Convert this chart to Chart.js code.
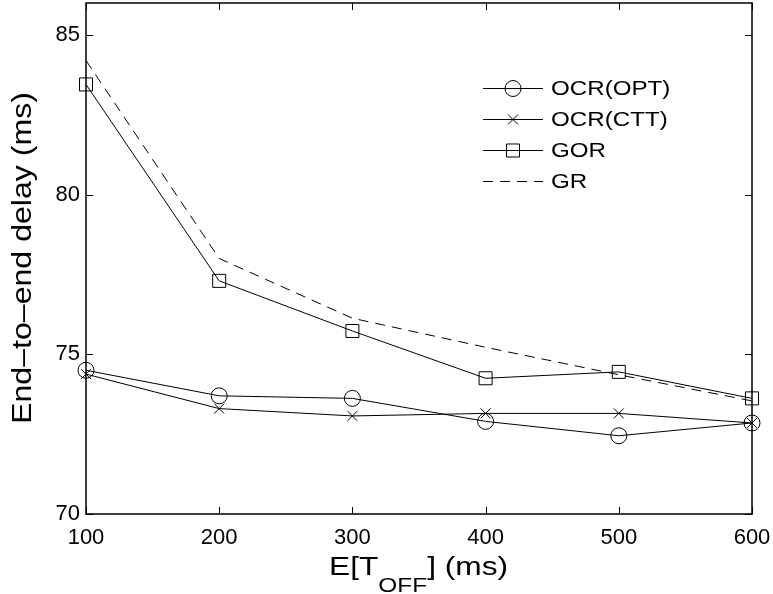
<!DOCTYPE html>
<html lang="en">
<head>
    <meta charset="UTF-8">
    <title>End-to-end delay vs E[T_OFF]</title>
    <script src="https://cdn.jsdelivr.net/npm/chart.js"></script>
    <style>
        html, body { margin: 0; padding: 0; background: #ffffff; }
        #wrap { width: 773px; height: 594px; }
    </style>
</head>
<body>
    <div id="wrap">
        <canvas id="delayChart" width="773" height="594"></canvas>
    </div>
    <script>
        // valores
        const toff = [100, 200, 300, 400, 500, 600];
        const ocrOpt = [74.5, 73.7, 73.62, 72.9, 72.45, 72.85];
        const ocrCtt = [74.38, 73.3, 73.07, 73.15, 73.15, 72.85];
        const gor = [83.45, 77.3, 75.73, 74.25, 74.45, 73.62];
        const gr = [84.2, 78.0, 76.13, 75.22, 74.36, 73.54];
        const yTicks = [70, 75, 80, 85];

        const FONT = "'Liberation Sans', Arial, sans-serif";

        function pts(ys) {
            return toff.map((x, i) => ({ x: x, y: ys[i] }));
        }

        // moldura e marcas de escala para dentro, como no MATLAB
        const framePlugin = {
            id: 'frame',
            afterDraw(chart) {
                const { ctx, chartArea: a, scales } = chart;
                ctx.save();
                ctx.strokeStyle = '#000';
                ctx.lineWidth = 1;
                ctx.beginPath();
                toff.forEach(v => {
                    const px = Math.round(scales.x.getPixelForValue(v)) + 0.5;
                    ctx.moveTo(px, a.bottom); ctx.lineTo(px, a.bottom - 7);
                    ctx.moveTo(px, a.top); ctx.lineTo(px, a.top + 7);
                });
                yTicks.forEach(v => {
                    const py = Math.round(scales.y.getPixelForValue(v)) + 0.5;
                    ctx.moveTo(a.left, py); ctx.lineTo(a.left + 7, py);
                    ctx.moveTo(a.right, py); ctx.lineTo(a.right - 7, py);
                });
                ctx.stroke();
                ctx.lineWidth = 1.5;
                ctx.strokeRect(a.left, a.top, a.right - a.left, a.bottom - a.top);

                ctx.fillStyle = '#000';
                ctx.textBaseline = 'alphabetic';
                ctx.textAlign = 'left';

                // título do eixo x com subscrito (fonte um pouco esticada na horizontal)
                ctx.save();
                ctx.translate(329, 0);
                ctx.scale(1.22, 1);
                let x = 0;
                ctx.font = '26px ' + FONT;
                ctx.fillText('E[T', x, 575);
                x += ctx.measureText('E[T').width;
                ctx.font = '20px ' + FONT;
                ctx.fillText('OFF', x, 592);
                x += ctx.measureText('OFF').width;
                ctx.font = '26px ' + FONT;
                ctx.fillText('] (ms)', x, 575);
                ctx.restore();

                // título do eixo y, girado
                ctx.save();
                ctx.translate(24, 258);
                ctx.rotate(-Math.PI / 2);
                ctx.font = '27px ' + FONT;
                ctx.textAlign = 'center';
                ctx.textBaseline = 'middle';
                const yt = 'End\u2013to\u2013end delay (ms)';
                ctx.scale(332 / ctx.measureText(yt).width, 1);
                ctx.fillText(yt, 0, 0);
                ctx.restore();

                // legenda
                chart.data.datasets.forEach((ds, i) => {
                    const y = 88 + i * 31 + 0.5;
                    ctx.save();
                    ctx.lineWidth = 1;
                    ctx.strokeStyle = '#000';
                    ctx.setLineDash(ds.borderDash || []);
                    ctx.beginPath();
                    ctx.moveTo(483, y); ctx.lineTo(543, y);
                    ctx.stroke();
                    ctx.setLineDash([]);
                    if (ds.pointRadius > 0) {
                        ctx.fillStyle = 'rgba(0,0,0,0)';
                        Chart.helpers.drawPoint(ctx, {
                            pointStyle: ds.pointStyle,
                            radius: ds.pointRadius,
                            borderWidth: 1,
                            rotation: 0
                        }, 513, y);
                    }
                    ctx.restore();
                    ctx.save();
                    ctx.fillStyle = '#000';
                    ctx.font = '21px ' + FONT;
                    ctx.textBaseline = 'middle';
                    ctx.translate(551, y + 1);
                    ctx.scale(1.15, 1);
                    ctx.fillText(ds.label, 0, 0);
                    ctx.restore();
                });
                ctx.restore();
            }
        };

        function serie(label, ys, style, radius, dash) {
            return {
                label: label,
                data: pts(ys),
                borderColor: '#000',
                borderWidth: 1,
                borderDash: dash,
                pointStyle: style,
                pointRadius: radius,
                pointBorderColor: '#000',
                pointBackgroundColor: 'rgba(0,0,0,0)',
                pointBorderWidth: 1,
                tension: 0,
                clip: false
            };
        }

        const ctx = document.getElementById('delayChart').getContext('2d');
        new Chart(ctx, {
            type: 'line',
            data: {
                datasets: [
                    serie('OCR(OPT)', ocrOpt, 'circle', 8, []),
                    serie('OCR(CTT)', ocrCtt, 'crossRot', 7, []),
                    serie('GOR', gor, 'rect', 9.2, []),
                    serie('GR', gr, false, 0, [10, 7])
                ]
            },
            options: {
                responsive: false,
                animation: false,
                layout: { autoPadding: false, padding: { top: 3, right: 21, left: 0, bottom: 0 } },
                plugins: {
                    legend: { display: false },
                    tooltip: { enabled: false }
                },
                scales: {
                    x: {
                        type: 'linear',
                        min: 100,
                        max: 600,
                        grid: { display: false, drawTicks: false },
                        border: { display: false },
                        ticks: {
                            stepSize: 100,
                            padding: 11,
                            color: '#000',
                            font: { family: FONT, size: 22 }
                        },
                        afterFit(scale) {
                            scale.height = 80;
                            scale.paddingLeft = 0;
                            scale.paddingRight = 0;
                        }
                    },
                    y: {
                        min: 70,
                        max: 86,
                        grid: { display: false, drawTicks: false },
                        border: { display: false },
                        afterBuildTicks(scale) {
                            scale.ticks = yTicks.map(v => ({ value: v }));
                        },
                        ticks: {
                            padding: 6,
                            color: '#000',
                            font: { family: FONT, size: 22 }
                        },
                        afterFit(scale) {
                            scale.width = 86;
                            scale.paddingTop = 0;
                            scale.paddingBottom = 0;
                        }
                    }
                }
            },
            plugins: [framePlugin]
        });
    </script>
</body>
</html>
